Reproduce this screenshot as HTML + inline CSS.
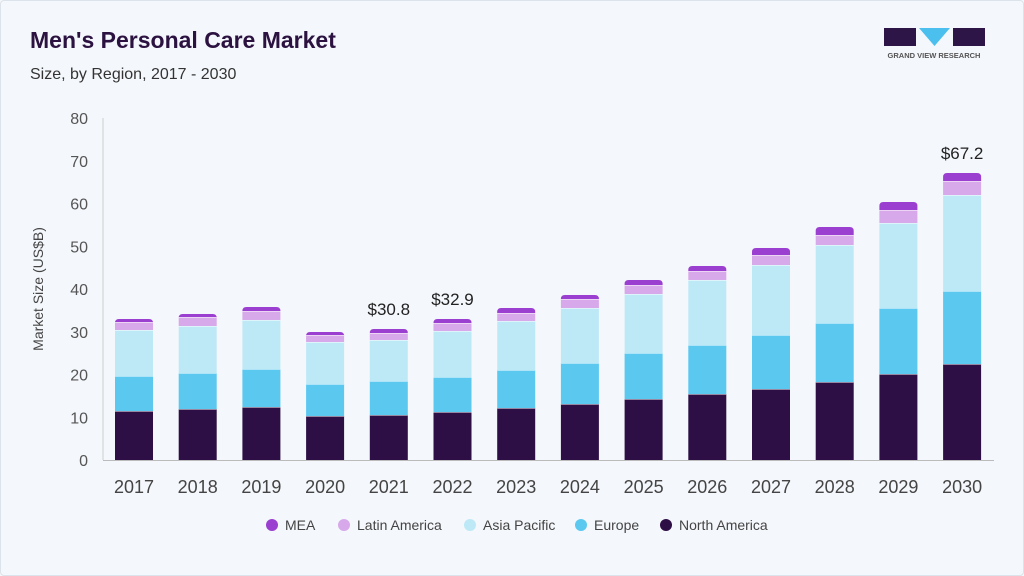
<!DOCTYPE html>
<html><head><meta charset="utf-8"><style>
body{margin:0;width:1024px;height:576px;background:#f4f7fb;font-family:"Liberation Sans",sans-serif;overflow:hidden}
.frame{position:absolute;left:0;top:0;width:1022px;height:574px;border:1px solid #dde3ea;border-radius:4px}
</style></head><body><div class="frame"></div>
<svg id="s" width="1024" height="576" style="position:absolute;left:0;top:0" font-family="Liberation Sans, sans-serif">
<text x="30" y="48" font-size="23" font-weight="bold" fill="#2b1240">Men's Personal Care Market</text>
<text x="30" y="79" font-size="16" fill="#333">Size, by Region, 2017 - 2030</text>
<rect x="884" y="28" width="32" height="18" fill="#2e1547"/>
<polygon points="919,28 950,28 934.5,46" fill="#4bbfee"/>
<rect x="953" y="28" width="32" height="18" fill="#2e1547"/>
<text x="934" y="58" font-size="7.5" font-weight="bold" fill="#555" text-anchor="middle">GRAND VIEW RESEARCH</text>
<line x1="103" y1="118" x2="103" y2="460" stroke="#ccc"/>
<line x1="103" y1="460.5" x2="994" y2="460.5" stroke="#bbb"/>
<text transform="translate(43,289) rotate(-90)" font-size="14" fill="#444" text-anchor="middle">Market Size (US$B)</text>
</svg>
<script>
const s=document.getElementById('s');const NS='http://www.w3.org/2000/svg';
function el(t,a,txt){const e=document.createElementNS(NS,t);for(const k in a)e.setAttribute(k,a[k]);if(txt!==undefined)e.textContent=txt;s.appendChild(e);return e}
for(let i=0;i<=8;i++){el('text',{x:88,y:460-i*42.75+6,'font-size':16,fill:'#555','text-anchor':'end'},i*10)}
const d=[[411,376,330,322,319],[409,373,326,317,314],[407,369,320,311,307],[416,384,342,335,332],[415,381,340,333,329],[412,377,331,323,319],[408,370,321,313,308],[404,363,308,299,295],[399,353,294,285,280],[394,345,280,271,266],[389,335,265,255,248],[382,323,245,235,227],[374,308,223,210,202],[364,291,195,181,173]];
const c=['#2e0f45','#5bc8f0','#bde9f7','#d7a8ea','#9b3fd0'];
d.forEach((b,i)=>{const cx=134+i*63.7,x=cx-19,w=38;let prev=460;
b.forEach((t,j)=>{if(j==4){el('path',{d:`M${x},${prev} V${t+4} Q${x},${t} ${x+4},${t} H${x+w-4} Q${x+w},${t} ${x+w},${t+4} V${prev} Z`,fill:c[j]})}else el('rect',{x:x,y:t,width:w,height:prev-t,fill:c[j]});
if(j<4)el('line',{x1:x,x2:x+w,y1:t,y2:t,stroke:'#fff','stroke-width':1});prev=t});
el('text',{x:cx,y:493,'font-size':18,fill:'#444','text-anchor':'middle'},2017+i);});
[[4,'$30.8'],[5,'$32.9'],[13,'$67.2']].forEach(([i,t])=>el('text',{x:134+i*63.7,y:d[i][4]-14,'font-size':17,fill:'#222','text-anchor':'middle'},t));
const L=[['MEA',272,c[4]],['Latin America',344,c[3]],['Asia Pacific',470,c[2]],['Europe',581,c[1]],['North America',666,c[0]]];
L.forEach(([t,x,col])=>{el('circle',{cx:x,cy:525,r:6,fill:col});el('text',{x:x+13,y:530,'font-size':14,fill:'#444'},t)});
</script>
</body></html>
